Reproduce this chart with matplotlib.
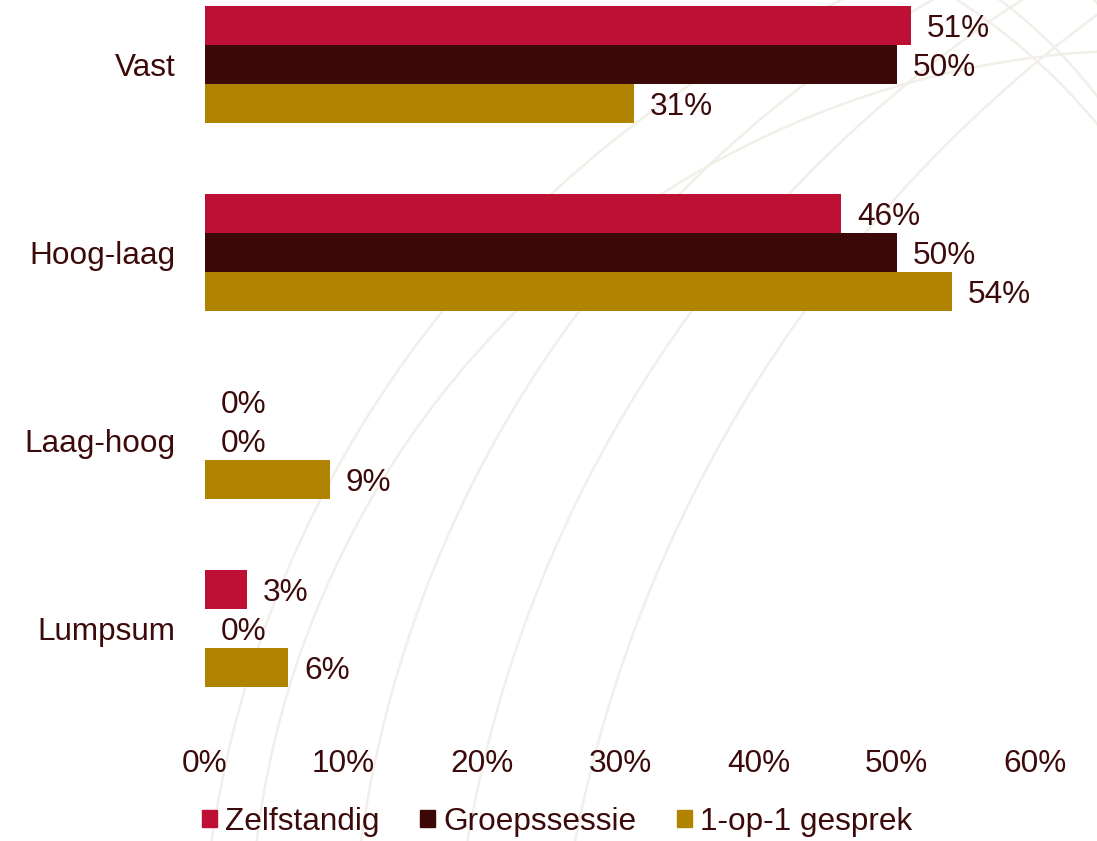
import matplotlib.pyplot as plt
from matplotlib.patches import Patch, Arc

categories = ['Vast', 'Hoog-laag', 'Laag-hoog', 'Lumpsum']
series_names = ['Zelfstandig', 'Groepssessie', '1-op-1 gesprek']
zelfstandig = [51, 46, 0, 3]
groepssessie = [50, 50, 0, 0]
een_op_een = [31, 54, 9, 6]
x_ticks = [0, 10, 20, 30, 40, 50, 60]

colors = ['#be1034', '#3c0808', '#b08400']
text_color = '#3c0a0a'

plt.rcParams['font.family'] = ['Liberation Sans', 'DejaVu Sans']
plt.rcParams['font.size'] = 22.7

fig = plt.figure(figsize=(10.97, 8.41), dpi=100)

# faint globe-like lines in the background (y axis runs downwards here)
bg = fig.add_axes([0, 0, 1, 1], zorder=0)
bg.set_xlim(0, 1097)
bg.set_ylim(841, 0)
bg.axis('off')
line_col = '#f1efe8'
for cx, cy, r in [(1300, 1000, 1100), (1500, 1000, 1150), (1700, 1050, 1250),
                  (1900, 1100, 1350), (1150, 950, 900)]:
    bg.add_patch(Arc((cx, cy), 2 * r, 2 * r, color=line_col, lw=1.8))
for cx, cy, r in [(700, 400, 500), (800, 300, 420), (620, 520, 620)]:
    bg.add_patch(Arc((cx, cy), 2 * r, 2 * r, theta1=270, theta2=360, color=line_col, lw=1.8))

ax = fig.add_axes([205 / 1097, 1 - 735 / 841, 830 / 1097, 735 / 841], zorder=1)
ax.set_facecolor('none')

h = 39 / 188
values = [zelfstandig, groepssessie, een_op_een]
for i, (name, vals, c) in enumerate(zip(series_names, values, colors)):
    pos = [k + (i - 1) * h for k in range(len(categories))]
    ax.barh(pos, vals, height=h, color=c, label=name)
    for p, v in zip(pos, vals):
        ax.annotate(f'{v}%', (v, p), xytext=(11.5, -2.5), textcoords='offset points',
                    va='center', ha='left', color=text_color)

ax.set_xlim(0, 60)
ax.set_ylim(3.566, -0.343)
ax.set_yticks(range(len(categories)))
ax.set_yticklabels(categories)
ax.set_xticks(x_ticks)
ax.set_xticklabels([f'{t}%' for t in x_ticks])
ax.tick_params(length=0, colors=text_color, labelcolor=text_color)
ax.tick_params(axis='y', pad=21)
ax.tick_params(axis='x', pad=10)
for s in ax.spines.values():
    s.set_visible(False)

handles = [Patch(color=c, label=n) for c, n in zip(colors, series_names)]
leg = fig.legend(handles=handles, loc='center', bbox_to_anchor=(557 / 1097, 1 - 822 / 841),
                 ncol=3, frameon=False, handlelength=0.47, handleheight=0.47,
                 handletextpad=0.25, columnspacing=1.3)
for t in leg.get_texts():
    t.set_color(text_color)

fig.savefig('out.png', dpi=100)
